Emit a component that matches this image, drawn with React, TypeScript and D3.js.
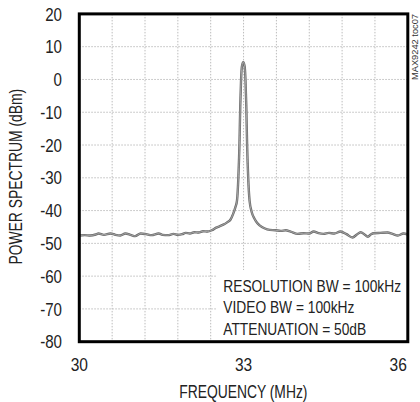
import React from "react";
import * as d3 from "d3";

const freqMHz = [
  30.0, 30.1, 30.2, 30.3, 30.35, 30.45, 30.57, 30.66, 30.75, 30.84, 30.95, 31.02, 31.12, 31.22, 31.32,
  31.45, 31.52, 31.62, 31.72, 31.8, 31.88, 31.94, 32.02, 32.1, 32.18, 32.26, 32.34, 32.42, 32.5, 32.56,
  32.63, 32.7, 32.76, 32.81, 32.85, 32.88, 32.905, 32.925, 32.94, 32.955, 32.97, 32.995, 33.02, 33.035,
  33.05, 33.065, 33.085, 33.11, 33.15, 33.2, 33.25, 33.3, 33.38, 33.48, 33.58, 33.68, 33.77, 33.86,
  33.99, 34.1, 34.2, 34.28, 34.37, 34.46, 34.56, 34.66, 34.77, 34.88, 34.99, 35.07, 35.14, 35.21,
  35.27, 35.33, 35.38, 35.5, 35.63, 35.72, 35.82, 35.92, 36.0,
];
const powerDbm = [
  -47.6, -47.5, -47.6, -47.3, -47.0, -47.4, -47.0, -47.4, -47.6, -47.0, -47.5, -47.8, -47.0, -47.2, -47.5,
  -47.0, -47.4, -47.5, -47.1, -47.4, -47.2, -46.8, -47.0, -46.6, -46.7, -46.3, -46.4, -46.0, -45.2, -44.8,
  -44.3, -43.6, -42.8, -41.0, -39.0, -37.0, -30.0, -20.0, -8.0, 0.0, 4.0, 5.3, 4.0, 0.0,
  -8.0, -20.0, -30.0, -37.0, -40.5, -42.5, -43.8, -44.6, -45.4, -45.9, -46.0, -46.2, -46.0, -46.4,
  -47.1, -46.9, -47.0, -46.4, -46.9, -47.1, -46.8, -47.0, -46.4, -47.2, -48.2, -47.3, -46.6, -47.3,
  -48.0, -47.2, -46.9, -46.8, -46.7, -47.1, -47.6, -47.0, -47.3,
];

const xTicks = [30, 33, 36];
const xGrid = [30.6, 31.2, 31.8, 32.4, 33, 33.6, 34.2, 34.8, 35.4];
const yTicks = [20, 10, 0, -10, -20, -30, -40, -50, -60, -70, -80];
const annotations = ["RESOLUTION BW = 100kHz", "VIDEO BW = 100kHz", "ATTENUATION = 50dB"];
const xTitle = "FREQUENCY (MHz)";
const yTitle = "POWER SPECTRUM (dBm)";
const tocLabel = "MAX9242 toc07";

const FONT = "'Liberation Sans', Arial, sans-serif";

function CText(props: {
  x: number;
  y: number;
  sx: number;
  size: number;
  anchor?: string;
  rotate?: number;
  fill?: string;
  children: any;
}) {
  const { x, y, sx, size, anchor, rotate, fill, children } = props;
  const rot = rotate ? ` rotate(${rotate})` : "";
  return (
    <text
      transform={`translate(${x},${y})${rot} scale(${sx},1)`}
      textAnchor={anchor || "start"}
      fontSize={size}
      fill={fill || "#222"}
    >
      {children}
    </text>
  );
}

export default function App() {
  const W = 420;
  const H = 402;
  const left = 79.3;
  const right = 407.8;
  const top = 13.9;
  const bottom = 341.7;

  const x = d3.scaleLinear().domain([30, 36]).range([left, right]);
  const y = d3.scaleLinear().domain([-80, 20]).range([bottom, top]);

  const pts: [number, number][] = freqMHz.map((f, i) => [f, powerDbm[i]]);
  const line = d3
    .line<[number, number]>()
    .x((d) => x(d[0]))
    .y((d) => y(d[1]))
    .curve(d3.curveMonotoneX);
  const path = line(pts) || "";

  const boxLeft = 216;
  const boxTop = 270;

  return (
    <svg
      width={W}
      height={H}
      style={{ position: "absolute", left: 0, top: 0, background: "#fff" }}
      fontFamily={FONT}
    >
      <rect x={0} y={0} width={W} height={H} fill="#fff" />
      {xGrid.map((g) => (
        <line
          key={"gx" + g}
          x1={x(g)}
          x2={x(g)}
          y1={top}
          y2={bottom}
          stroke="#bcbcbc"
          strokeWidth={1}
          strokeDasharray="1.5,1.5"
        />
      ))}
      {yTicks.slice(1, -1).map((g) => (
        <line
          key={"gy" + g}
          x1={left}
          x2={right}
          y1={y(g)}
          y2={y(g)}
          stroke="#bcbcbc"
          strokeWidth={1}
          strokeDasharray="1.5,1.5"
        />
      ))}
      <rect x={boxLeft} y={boxTop} width={right - boxLeft} height={bottom - boxTop} fill="#fff" />
      <path d={path} fill="none" stroke="#6a6a6a" strokeWidth={2.4} strokeLinejoin="round" />
      <path d={path} fill="none" stroke="#bdbdbd" strokeWidth={0.7} strokeLinejoin="round" />
      <rect
        x={left}
        y={top}
        width={right - left}
        height={bottom - top}
        fill="none"
        stroke="#000"
        strokeWidth={3}
      />
      {yTicks.map((t) => (
        <CText key={"yt" + t} x={62} y={y(t) + 6.6} sx={0.84} size={18} anchor="end">
          {t}
        </CText>
      ))}
      {xTicks.map((t, i) => (
        <CText
          key={"xt" + t}
          x={i === xTicks.length - 1 ? x(t) - 1 : x(t)}
          y={370.7}
          sx={0.84}
          size={18.5}
          anchor={i === xTicks.length - 1 ? "end" : "middle"}
        >
          {t}
        </CText>
      ))}
      <CText x={243.3} y={398} sx={0.73} size={19} anchor="middle">
        {xTitle}
      </CText>
      <CText x={21.7} y={176.7} sx={0.75} size={18.5} anchor="middle" rotate={-90}>
        {yTitle}
      </CText>
      <text
        transform={`translate(417.5,14) rotate(-90)`}
        textAnchor="end"
        fontSize={9.5}
        fill="#333"
        fontFamily={FONT}
        textLength={66}
        lengthAdjust="spacingAndGlyphs"
      >
        {tocLabel}
      </text>
      {annotations.map((a, i) => (
        <CText key={a} x={223.3} y={291.7 + i * 21.7} sx={0.81} size={17}>
          {a}
        </CText>
      ))}
    </svg>
  );
}
